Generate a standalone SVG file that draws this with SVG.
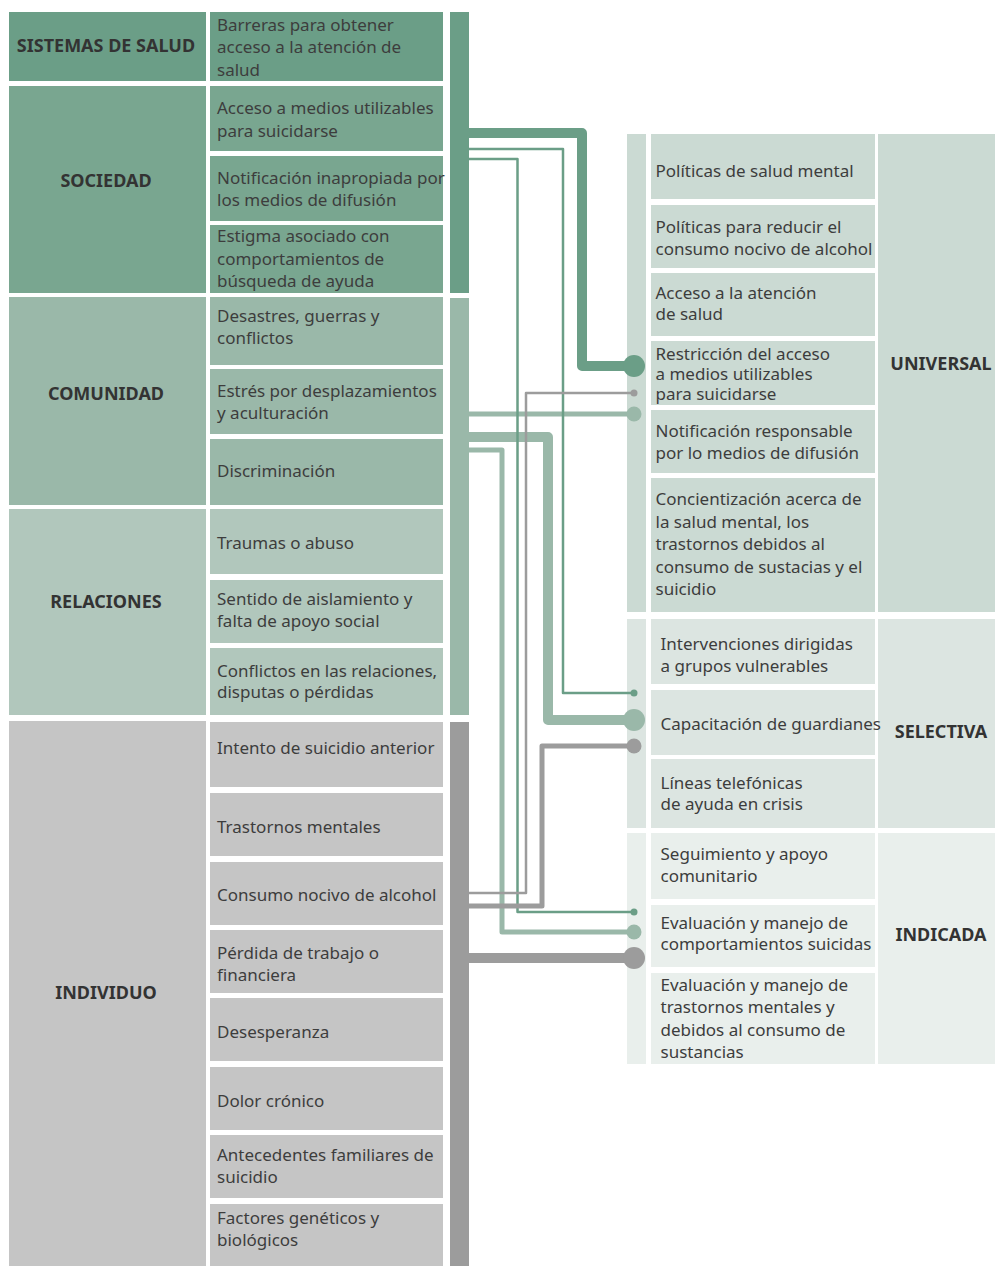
<svg xmlns="http://www.w3.org/2000/svg" width="995" height="1266" viewBox="0 0 995 1266">
  <style>
    .t { font-family: "Noto Sans", "Liberation Sans", Arial, sans-serif; font-size: 17px; fill: #3d3d3d; }
    .h { font-family: "Noto Sans", "Liberation Sans", Arial, sans-serif; font-size: 18px; font-weight: bold; fill: #333333; text-anchor: middle; }
    .c1 { fill: #6b9e87; }
    .c2 { fill: #79a690; }
    .c3 { fill: #9ab8a9; }
    .c4 { fill: #b1c7bc; }
    .c5 { fill: #c5c5c5; }
    .u { fill: #cbdad3; }
    .s { fill: #dce5e1; }
    .i { fill: #e9efec; }
    .ln { fill: none; stroke-linejoin: round; }
    .dg { stroke: #6b9e87; }
    .lg { stroke: #9ab8a9; }
    .gy { stroke: #9c9c9c; }
  </style>

  <rect width="995" height="1266" fill="#ffffff"/>

  <!-- Levels (left column) -->
  <g id="level-sistemas"><rect class="c1" x="9" y="12" width="197" height="69"/><text class="h" x="106" y="52">SISTEMAS DE SALUD</text></g>
  <g id="level-sociedad"><rect class="c2" x="9" y="86" width="197" height="207"/><text class="h" x="106" y="187">SOCIEDAD</text></g>
  <g id="level-comunidad"><rect class="c3" x="9" y="297" width="197" height="208"/><text class="h" x="106" y="400">COMUNIDAD</text></g>
  <g id="level-relaciones"><rect class="c4" x="9" y="509" width="197" height="206"/><text class="h" x="106" y="608">RELACIONES</text></g>
  <g id="level-individuo"><rect class="c5" x="9" y="721" width="197" height="545"/><text class="h" x="106" y="999">INDIVIDUO</text></g>

  <!-- Risk factors -->
  <g id="risk-barreras"><rect class="c1" x="210" y="12" width="233" height="69"/><text class="t" x="217" y="31">Barreras para obtener</text><text class="t" x="217" y="53">acceso a la atención de</text><text class="t" x="217" y="75.5">salud</text></g>
  <g id="risk-acceso-medios"><rect class="c2" x="210" y="86" width="233" height="65"/><text class="t" x="217" y="114">Acceso a medios utilizables</text><text class="t" x="217" y="136.5">para suicidarse</text></g>
  <g id="risk-notificacion"><rect class="c2" x="210" y="156" width="233" height="65"/><text class="t" x="217" y="184">Notificación inapropiada por</text><text class="t" x="217" y="206">los medios de difusión</text></g>
  <g id="risk-estigma"><rect class="c2" x="210" y="225" width="233" height="68"/><text class="t" x="217" y="242">Estigma asociado con</text><text class="t" x="217" y="264.5">comportamientos de</text><text class="t" x="217" y="287">búsqueda de ayuda</text></g>

  <g id="risk-desastres"><rect class="c3" x="210" y="297" width="233" height="68"/><text class="t" x="217" y="322">Desastres, guerras y</text><text class="t" x="217" y="343.5">conflictos</text></g>
  <g id="risk-estres"><rect class="c3" x="210" y="369" width="233" height="65"/><text class="t" x="217" y="397">Estrés por desplazamientos</text><text class="t" x="217" y="418.5">y aculturación</text></g>
  <g id="risk-discriminacion"><rect class="c3" x="210" y="439" width="233" height="66"/><text class="t" x="217" y="477">Discriminación</text></g>

  <g id="risk-traumas"><rect class="c4" x="210" y="509" width="233" height="65"/><text class="t" x="217" y="549">Traumas o abuso</text></g>
  <g id="risk-aislamiento"><rect class="c4" x="210" y="580" width="233" height="63"/><text class="t" x="217" y="605">Sentido de aislamiento y</text><text class="t" x="217" y="626.5">falta de apoyo social</text></g>
  <g id="risk-conflictos"><rect class="c4" x="210" y="648" width="233" height="67"/><text class="t" x="217" y="677">Conflictos en las relaciones,</text><text class="t" x="217" y="698">disputas o pérdidas</text></g>

  <g id="risk-intento"><rect class="c5" x="210" y="722" width="233" height="65"/><text class="t" x="217" y="753.5">Intento de suicidio anterior</text></g>
  <g id="risk-trastornos"><rect class="c5" x="210" y="793" width="233" height="63"/><text class="t" x="217" y="833">Trastornos mentales</text></g>
  <g id="risk-alcohol"><rect class="c5" x="210" y="862" width="233" height="63"/><text class="t" x="217" y="901">Consumo nocivo de alcohol</text></g>
  <g id="risk-perdida"><rect class="c5" x="210" y="930" width="233" height="63"/><text class="t" x="217" y="959">Pérdida de trabajo o</text><text class="t" x="217" y="981">financiera</text></g>
  <g id="risk-desesperanza"><rect class="c5" x="210" y="998" width="233" height="63"/><text class="t" x="217" y="1038">Desesperanza</text></g>
  <g id="risk-dolor"><rect class="c5" x="210" y="1067" width="233" height="63"/><text class="t" x="217" y="1107">Dolor crónico</text></g>
  <g id="risk-antecedentes"><rect class="c5" x="210" y="1135" width="233" height="63"/><text class="t" x="217" y="1161">Antecedentes familiares de</text><text class="t" x="217" y="1183">suicidio</text></g>
  <g id="risk-geneticos"><rect class="c5" x="210" y="1204" width="233" height="62"/><text class="t" x="217" y="1224">Factores genéticos y</text><text class="t" x="217" y="1246">biológicos</text></g>

  <!-- Source bars -->
  <g id="bar-sociedad"><rect class="c1" x="450" y="12" width="19" height="281"/></g>
  <g id="bar-comunidad"><rect class="c3" x="450" y="298" width="19" height="417"/></g>
  <g id="bar-individuo"><rect fill="#9c9c9c" x="450" y="722" width="19" height="544"/></g>

  <!-- Universal interventions -->
  <g id="universal">
    <rect class="u" x="627" y="134" width="19" height="478"/>
    <rect class="u" x="878" y="134" width="117" height="478"/>
    <text class="h" x="941" y="370">UNIVERSAL</text>
  </g>
  <g id="int-politicas-salud"><rect class="u" x="651" y="134" width="224" height="65"/><text class="t" x="655.5" y="177">Políticas de salud mental</text></g>
  <g id="int-politicas-alcohol"><rect class="u" x="651" y="205" width="224" height="63"/><text class="t" x="655.5" y="232.5">Políticas para reducir el</text><text class="t" x="655.5" y="255">consumo nocivo de alcohol</text></g>
  <g id="int-acceso-atencion"><rect class="u" x="651" y="273" width="224" height="63"/><text class="t" x="655.5" y="298.5">Acceso a la atención</text><text class="t" x="655.5" y="320">de salud</text></g>
  <g id="int-restriccion"><rect class="u" x="651" y="341" width="224" height="64"/><text class="t" x="655.5" y="360">Restricción del acceso</text><text class="t" x="655.5" y="380">a medios utilizables</text><text class="t" x="655.5" y="399.5">para suicidarse</text></g>
  <g id="int-notificacion"><rect class="u" x="651" y="410" width="224" height="63"/><text class="t" x="655.5" y="437">Notificación responsable</text><text class="t" x="655.5" y="459">por lo medios de difusión</text></g>
  <g id="int-concientizacion"><rect class="u" x="651" y="478" width="224" height="134"/><text class="t" x="655.5" y="505">Concientización acerca de</text><text class="t" x="655.5" y="527.5">la salud mental, los</text><text class="t" x="655.5" y="550">trastornos debidos al</text><text class="t" x="655.5" y="572.5">consumo de sustacias y el</text><text class="t" x="655.5" y="594.5">suicidio</text></g>

  <!-- Selective interventions -->
  <g id="selectiva">
    <rect class="s" x="627" y="619" width="19" height="209"/>
    <rect class="s" x="878" y="619" width="117" height="209"/>
    <text class="h" x="941" y="737.5">SELECTIVA</text>
  </g>
  <g id="int-grupos"><rect class="s" x="651" y="619" width="224" height="65"/><text class="t" x="660.5" y="649.5">Intervenciones dirigidas</text><text class="t" x="660.5" y="672">a grupos vulnerables</text></g>
  <g id="int-guardianes"><rect class="s" x="651" y="690" width="224" height="65"/><text class="t" x="660.5" y="730">Capacitación de guardianes</text></g>
  <g id="int-lineas"><rect class="s" x="651" y="759" width="224" height="69"/><text class="t" x="660.5" y="788.5">Líneas telefónicas</text><text class="t" x="660.5" y="810">de ayuda en crisis</text></g>

  <!-- Indicated interventions -->
  <g id="indicada">
    <rect class="i" x="627" y="833" width="19" height="231"/>
    <rect class="i" x="878" y="833" width="117" height="231"/>
    <text class="h" x="941" y="941">INDICADA</text>
  </g>
  <g id="int-seguimiento"><rect class="i" x="651" y="833" width="224" height="66"/><text class="t" x="660.5" y="860">Seguimiento y apoyo</text><text class="t" x="660.5" y="882">comunitario</text></g>
  <g id="int-comportamientos"><rect class="i" x="651" y="905" width="224" height="62"/><text class="t" x="660.5" y="928.5">Evaluación y manejo de</text><text class="t" x="660.5" y="950">comportamientos suicidas</text></g>
  <g id="int-trastornos"><rect class="i" x="651" y="973" width="224" height="91"/><text class="t" x="660.5" y="991">Evaluación y manejo de</text><text class="t" x="660.5" y="1013">trastornos mentales y</text><text class="t" x="660.5" y="1036">debidos al consumo de</text><text class="t" x="660.5" y="1057.5">sustancias</text></g>

  <!-- Connectors: risk levels to interventions -->
  <g id="connectors">
    <!-- community / relationships -->
    <path class="ln lg" stroke-width="5" d="M469,414 H634"/>
    <circle cx="634" cy="414" r="7.5" fill="#9ab8a9"/>
    <path class="ln lg" stroke-width="10" d="M469,437 H548 V720 H634"/>
    <circle cx="634" cy="720" r="11" fill="#9ab8a9"/>
    <path class="ln lg" stroke-width="5" d="M469,450 H502 V932 H634"/>
    <circle cx="634" cy="932" r="7.5" fill="#9ab8a9"/>

    <!-- society / health systems -->
    <path class="ln dg" stroke-width="10" d="M469,133 H582 V366 H634"/>
    <circle cx="634" cy="366" r="11" fill="#6b9e87"/>
    <path class="ln dg" stroke-width="2.5" d="M469,149 H563 V693 H634"/>
    <circle cx="634" cy="693" r="3.5" fill="#6b9e87"/>
    <path class="ln dg" stroke-width="2.5" d="M469,159 H517.5 V912 H634"/>
    <circle cx="634" cy="912" r="3.5" fill="#6b9e87"/>

    <!-- individual -->
    <path class="ln gy" stroke-width="2.5" d="M469,893 H526 V393 H634"/>
    <circle cx="634" cy="393" r="3.5" fill="#9c9c9c"/>
    <path class="ln gy" stroke-width="5" d="M469,906 H542 V746 H634"/>
    <circle cx="634" cy="746" r="7.5" fill="#9c9c9c"/>
    <path class="ln gy" stroke-width="10" d="M469,958 H634"/>
    <circle cx="634" cy="958" r="11" fill="#9c9c9c"/>
  </g>
</svg>
